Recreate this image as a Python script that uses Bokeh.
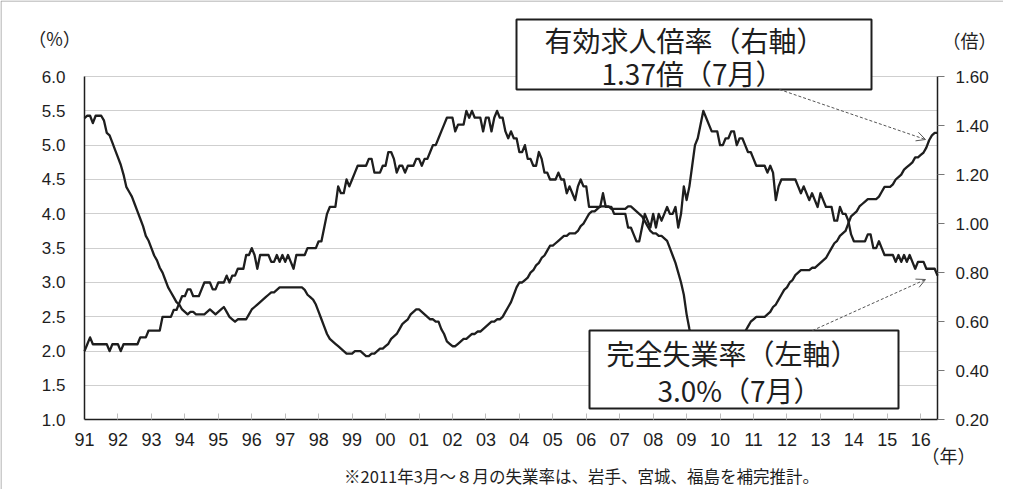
from bokeh.plotting import figure
from bokeh.models import (Range1d, LinearAxis, FixedTicker, NumeralTickFormatter,
                          BoxAnnotation, Label, Arrow, OpenHead, ColumnDataSource)
from bokeh.embed import file_html
from bokeh.resources import INLINE

# ---------------- data (monthly, Jan 1991 - Jul 2016) ----------------
year_labels = ["91", "92", "93", "94", "95", "96", "97", "98", "99", "00",
               "01", "02", "03", "04", "05", "06", "07", "08", "09", "10",
               "11", "12", "13", "14", "15", "16"]

# 完全失業率 (%), left axis
unemployment = [
    2.0, 2.1, 2.2, 2.1, 2.1, 2.1, 2.1, 2.1, 2.1, 2.0, 2.1, 2.1,   # 1991
    2.1, 2.0, 2.1, 2.1, 2.1, 2.1, 2.1, 2.1, 2.2, 2.2, 2.2, 2.3,   # 1992
    2.3, 2.3, 2.3, 2.3, 2.5, 2.5, 2.5, 2.5, 2.6, 2.6, 2.7, 2.8,   # 1993
    2.8, 2.9, 2.9, 2.8, 2.8, 2.8, 2.9, 3.0, 3.0, 3.0, 2.9, 2.9,   # 1994
    3.0, 3.0, 3.0, 3.1, 3.0, 3.1, 3.1, 3.2, 3.2, 3.2, 3.4, 3.4,   # 1995
    3.5, 3.4, 3.2, 3.4, 3.4, 3.4, 3.4, 3.3, 3.3, 3.4, 3.3, 3.4,   # 1996
    3.3, 3.4, 3.3, 3.2, 3.4, 3.4, 3.4, 3.4, 3.5, 3.5, 3.5, 3.5,   # 1997
    3.6, 3.6, 3.8, 4.0, 4.1, 4.1, 4.1, 4.4, 4.3, 4.3, 4.5, 4.4,   # 1998
    4.5, 4.6, 4.7, 4.7, 4.7, 4.7, 4.8, 4.8, 4.6, 4.6, 4.6, 4.7,   # 1999
    4.7, 4.9, 4.9, 4.8, 4.6, 4.7, 4.7, 4.6, 4.7, 4.7, 4.7, 4.8,   # 2000
    4.8, 4.7, 4.8, 4.8, 4.9, 5.0, 5.0, 5.1, 5.2, 5.3, 5.4, 5.4,   # 2001
    5.4, 5.2, 5.3, 5.3, 5.3, 5.5, 5.4, 5.5, 5.4, 5.4, 5.4, 5.2,   # 2002
    5.4, 5.4, 5.2, 5.4, 5.5, 5.4, 5.4, 5.2, 5.1, 5.2, 5.1, 5.1,   # 2003
    4.9, 4.9, 5.0, 4.8, 4.8, 4.7, 4.7, 4.9, 4.8, 4.6, 4.6, 4.5,   # 2004
    4.5, 4.5, 4.6, 4.5, 4.5, 4.3, 4.4, 4.3, 4.2, 4.4, 4.5, 4.4,   # 2005
    4.4, 4.1, 4.1, 4.1, 4.1, 4.1, 4.3, 4.1, 4.1, 4.1, 4.0, 4.0,   # 2006
    4.0, 4.0, 4.0, 3.8, 3.8, 3.7, 3.6, 3.6, 3.8, 4.0, 3.9, 3.8,   # 2007
    4.0, 3.8, 4.0, 3.9, 4.0, 4.1, 4.0, 4.0, 4.1, 3.8, 4.0, 4.4,   # 2008
    4.2, 4.4, 4.7, 5.0, 5.1, 5.3, 5.5, 5.4, 5.3, 5.2, 5.2, 5.2,   # 2009
    5.0, 5.0, 5.1, 5.1, 5.2, 5.2, 5.0, 5.1, 5.1, 5.0, 4.9, 4.9,   # 2010
    4.8, 4.7, 4.7, 4.7, 4.7, 4.6, 4.7, 4.6, 4.2, 4.4, 4.5, 4.5,   # 2011
    4.5, 4.5, 4.5, 4.5, 4.4, 4.3, 4.4, 4.3, 4.2, 4.3, 4.2, 4.1,   # 2012
    4.3, 4.2, 4.1, 4.1, 4.1, 3.9, 3.9, 4.1, 4.0, 4.0, 3.9, 3.7,   # 2013
    3.6, 3.6, 3.6, 3.6, 3.6, 3.7, 3.7, 3.5, 3.5, 3.6, 3.5, 3.4,   # 2014
    3.4, 3.4, 3.4, 3.3, 3.4, 3.3, 3.4, 3.3, 3.4, 3.3, 3.2, 3.3,   # 2015
    3.3, 3.3, 3.2, 3.2, 3.2, 3.2, 3.1,                            # 2016
]

# 有効求人倍率 (倍), right axis
job_ratio = [
    1.43, 1.44, 1.44, 1.41, 1.44, 1.44, 1.44, 1.42, 1.37, 1.36, 1.33, 1.30,   # 1991
    1.27, 1.24, 1.20, 1.15, 1.13, 1.11, 1.08, 1.05, 1.02, 0.99, 0.95, 0.93,   # 1992
    0.90, 0.87, 0.85, 0.82, 0.80, 0.77, 0.74, 0.72, 0.70, 0.68, 0.67, 0.65,   # 1993
    0.64, 0.63, 0.64, 0.64, 0.63, 0.63, 0.63, 0.63, 0.64, 0.65, 0.64, 0.63,   # 1994
    0.64, 0.65, 0.66, 0.64, 0.62, 0.61, 0.60, 0.61, 0.61, 0.61, 0.61, 0.63,   # 1995
    0.65, 0.66, 0.67, 0.68, 0.69, 0.70, 0.71, 0.72, 0.72, 0.73, 0.74, 0.74,   # 1996
    0.74, 0.74, 0.74, 0.74, 0.74, 0.74, 0.74, 0.73, 0.71, 0.70, 0.69, 0.67,   # 1997
    0.64, 0.61, 0.58, 0.55, 0.53, 0.52, 0.51, 0.50, 0.49, 0.48, 0.47, 0.47,   # 1998
    0.47, 0.48, 0.48, 0.48, 0.47, 0.46, 0.46, 0.47, 0.47, 0.48, 0.49, 0.49,   # 1999
    0.50, 0.51, 0.53, 0.54, 0.55, 0.57, 0.59, 0.60, 0.61, 0.63, 0.64, 0.65,   # 2000
    0.65, 0.64, 0.63, 0.62, 0.61, 0.61, 0.60, 0.60, 0.57, 0.55, 0.52, 0.51,   # 2001
    0.50, 0.50, 0.51, 0.52, 0.53, 0.53, 0.54, 0.55, 0.55, 0.56, 0.56, 0.57,   # 2002
    0.58, 0.59, 0.60, 0.60, 0.61, 0.61, 0.62, 0.64, 0.66, 0.68, 0.71, 0.74,   # 2003
    0.76, 0.76, 0.77, 0.78, 0.80, 0.81, 0.83, 0.84, 0.86, 0.87, 0.89, 0.91,   # 2004
    0.91, 0.92, 0.93, 0.94, 0.95, 0.95, 0.96, 0.96, 0.96, 0.97, 0.99, 1.00,   # 2005
    1.02, 1.04, 1.05, 1.05, 1.06, 1.07, 1.07, 1.07, 1.07, 1.06, 1.06, 1.06,   # 2006
    1.06, 1.06, 1.06, 1.07, 1.07, 1.06, 1.05, 1.04, 1.03, 1.01, 0.99, 0.97,   # 2007
    0.96, 0.96, 0.95, 0.95, 0.94, 0.93, 0.90, 0.87, 0.84, 0.80, 0.76, 0.71,   # 2008
    0.63, 0.57, 0.52, 0.47, 0.44, 0.43, 0.42, 0.42, 0.43, 0.44, 0.45, 0.46,   # 2009
    0.46, 0.47, 0.48, 0.49, 0.50, 0.52, 0.53, 0.54, 0.55, 0.56, 0.58, 0.60,   # 2010
    0.61, 0.62, 0.62, 0.62, 0.62, 0.63, 0.64, 0.66, 0.67, 0.69, 0.71, 0.73,   # 2011
    0.74, 0.76, 0.77, 0.79, 0.80, 0.81, 0.81, 0.81, 0.81, 0.82, 0.82, 0.83,   # 2012
    0.84, 0.85, 0.86, 0.88, 0.90, 0.92, 0.93, 0.95, 0.96, 0.97, 1.00, 1.03,   # 2013
    1.04, 1.05, 1.07, 1.08, 1.09, 1.10, 1.10, 1.10, 1.10, 1.11, 1.13, 1.15,   # 2014
    1.15, 1.15, 1.16, 1.18, 1.19, 1.20, 1.22, 1.23, 1.24, 1.25, 1.27, 1.27,   # 2015
    1.28, 1.29, 1.31, 1.34, 1.36, 1.37, 1.37,                                 # 2016
]

left_ticks = [1.0, 1.5, 2.0, 2.5, 3.0, 3.5, 4.0, 4.5, 5.0, 5.5, 6.0]
right_ticks = [0.2, 0.4, 0.6, 0.8, 1.0, 1.2, 1.4, 1.6]

# ---------------- layout helpers (page pixel -> data) ----------------
N = len(unemployment)
XMAX = N - 1
FL, FR, FT, FB = 92.0, 945.0, 84.0, 427.3   # chart area edges on the page
PAGE_L, PAGE_T, PAGE_R, PAGE_B = 8, 8, 1011, 497


def xd(px):
    return (px - FL) / (FR - FL) * XMAX


def yd(py):
    return left_ticks[0] + (FB - py) / (FB - FT) * (left_ticks[-1] - left_ticks[0])


def rd(py):
    return right_ticks[0] + (FB - py) / (FB - FT) * (right_ticks[-1] - right_ticks[0])


JP = "Noto Sans CJK JP"
NUM = "Liberation Sans"
INK = "#1e1e1e"

src = ColumnDataSource(dict(m=list(range(N)), u=unemployment, j=job_ratio))

# the frame covers the whole canvas; axes are pinned at the chart-area edges
p = figure(width=PAGE_R - PAGE_L, height=PAGE_B - PAGE_T, output_backend="svg",
           toolbar_location=None,
           x_range=Range1d(xd(PAGE_L), xd(PAGE_R)), y_range=Range1d(yd(PAGE_B), yd(PAGE_T)),
           min_border=0)
p.extra_y_ranges = {"ratio": Range1d(rd(PAGE_B), rd(PAGE_T))}
p.outline_line_color = None
p.background_fill_color = "white"
p.border_fill_color = "white"

# grid
p.xgrid.visible = False
g = p.ygrid[0]
g.ticker = FixedTicker(ticks=left_ticks)
g.grid_line_color = "#cfcfcf"
g.grid_line_width = 1
try:
    g.cross_bounds = (0, XMAX)
except AttributeError:
    g.visible = False
    p.segment(x0=[0] * len(left_ticks), x1=[XMAX] * len(left_ticks), y0=left_ticks, y1=left_ticks,
              line_color="#cfcfcf", line_width=1)

# bottom axis
xa = p.xaxis[0]
xa.fixed_location = left_ticks[0]
xa.bounds = (0, XMAX)
xa.ticker = FixedTicker(ticks=[i * 12 for i in range(len(year_labels))])
xa.major_label_overrides = {i * 12: lab for i, lab in enumerate(year_labels)}
xa.major_tick_in = 6
xa.major_tick_out = 0
xa.major_tick_line_color = "#bdbdbd"
xa.minor_tick_line_color = None
xa.axis_line_color = INK
xa.axis_line_width = 1.5
xa.major_label_text_font = NUM
xa.major_label_text_font_size = "18px"
xa.major_label_text_color = INK
xa.major_label_standoff = 13

# left axis
ya = p.yaxis[0]
ya.fixed_location = 0
ya.bounds = (left_ticks[0], left_ticks[-1])
ya.ticker = FixedTicker(ticks=left_ticks)
ya.formatter = NumeralTickFormatter(format="0.0")
ya.major_tick_in = 0
ya.major_tick_out = 0
ya.minor_tick_line_color = None
ya.axis_line_color = INK
ya.axis_line_width = 1.5
ya.major_label_text_font = NUM
ya.major_label_text_font_size = "17px"
ya.major_label_text_color = INK
ya.major_label_standoff = 19

# right axis
ra = LinearAxis(y_range_name="ratio")
ra.fixed_location = XMAX
ra.bounds = (right_ticks[0], right_ticks[-1])
ra.ticker = FixedTicker(ticks=right_ticks)
ra.formatter = NumeralTickFormatter(format="0.00")
ra.major_tick_in = 0
ra.major_tick_out = 7
ra.major_tick_line_color = "#777777"
ra.minor_tick_line_color = None
ra.axis_line_color = INK
ra.axis_line_width = 1.5
ra.major_label_text_font = NUM
ra.major_label_text_font_size = "17px"
ra.major_label_text_color = INK
ra.major_label_standoff = 11
p.add_layout(ra, "right")

# series
p.line("m", "u", source=src, line_color=INK, line_width=2.3, line_join="round")
p.line("m", "j", source=src, y_range_name="ratio", line_color=INK, line_width=2.3, line_join="round")

# outer frame (top and left edges of the original picture)
p.add_layout(BoxAnnotation(left=xd(8.5), right=xd(1300), top=yd(8.5), bottom=yd(900),
                           fill_alpha=0, line_color="#9a9a9a", line_alpha=1, line_width=1))

# callout boxes
p.add_layout(BoxAnnotation(left=xd(524), right=xd(879), top=yd(27), bottom=yd(97),
                           fill_color="white", fill_alpha=1, line_color=INK, line_alpha=1, line_width=2))
p.add_layout(BoxAnnotation(left=xd(597), right=xd(906), top=yd(338), bottom=yd(416),
                           fill_color="white", fill_alpha=1, line_color=INK, line_alpha=1, line_width=2))


def lab(text, px, py, size, font=JP, align="center"):
    p.add_layout(Label(x=xd(px), y=yd(py), text=text, text_align=align, text_baseline="middle",
                       text_font=font, text_font_size=size, text_color=INK))


lab("有効求人倍率（右軸）", 692, 47, "28px")
lab("1.37倍（7月）", 700, 80, "28px")
lab("完全失業率（左軸）", 740, 360, "28px")
lab("3.0%（7月）", 747, 397, "28px")
lab("（%）", 62, 45, "18px")
lab("（倍）", 977, 47, "18px")
lab("（年）", 956, 462, "18px")
lab("※2011年3月～８月の失業率は、岩手、宮城、福島を補完推計。", 589, 483, "16.5px")

# dashed pointer arrows
for (x0, y0, x1, y1) in [(787, 97, 933, 147), (820, 338, 933, 287)]:
    p.add_layout(Arrow(end=OpenHead(size=9, line_color="#555555", line_width=1),
                       x_start=xd(x0), y_start=yd(y0), x_end=xd(x1), y_end=yd(y1),
                       line_color="#555555", line_width=1, line_dash="3 2"))

open("out.html", "w").write(file_html(p, INLINE))
